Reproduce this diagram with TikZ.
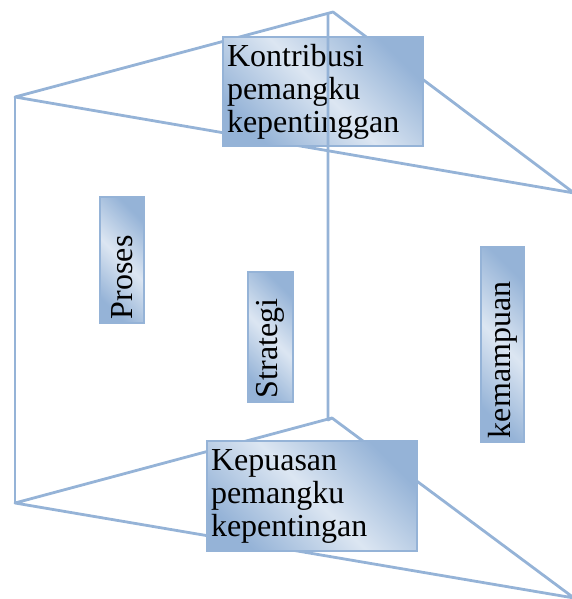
\documentclass[tikz,border=0pt]{standalone}
\usepackage{fontspec}
\setmainfont{Liberation Serif}
\definecolor{edge}{HTML}{95B3D7}
\definecolor{boxlight}{HTML}{DCE6F2}
\definecolor{boxdark}{HTML}{95B3D7}
\begin{document}
\begin{tikzpicture}[x=1pt,y=-1pt,
  frame/.style={draw=edge, line width=2.8pt, line join=round},
  labelbox/.style={draw=edge, line width=2pt, top color=boxdark, bottom color=boxdark,
    middle color=boxlight, shading angle=-45, inner sep=4pt,
    font=\fontsize{32}{33}\selectfont, align=left}]
\useasboundingbox (0,0) rectangle (572,599);
% vertices
\coordinate (tl) at (15,97);
\coordinate (ta) at (333,12);
\coordinate (tr) at (574,193);
\coordinate (bl) at (15,503);
\coordinate (ba) at (332,418);
\coordinate (br) at (574,598);
\coordinate (vt) at (328,14);
\coordinate (vb) at (328,420);
% slanted edges
\draw[frame] (tl) -- (ta) -- (tr) -- cycle;
\draw[frame] (bl) -- (ba) -- (br) -- cycle;
\draw[frame] (tl) -- (bl);
% boxes
\node[labelbox, minimum width=200pt, minimum height=109pt, text width=192pt] (kontribusi) at (323,91.5) {Kontribusi\\pemangku\\kepentinggan};
\node[labelbox, minimum width=210pt, minimum height=110pt, text width=202pt] (kepuasan) at (312,496) {Kepuasan\\pemangku\\kepentingan};
\node[labelbox, rotate=90, minimum width=126pt, minimum height=44pt, text width=118pt] (proses) at (122,260) {Proses};
\node[labelbox, rotate=90, minimum width=130pt, minimum height=45pt, text width=122pt] (strategi) at (270.5,337) {Strategi};
\node[labelbox, rotate=90, minimum width=195pt, minimum height=43pt, text width=187pt] (kemampuan) at (502.5,344.5) {kemampuan};
% vertical edge on top
\draw[frame] (vt) -- (vb) -- (ba);
\end{tikzpicture}
\end{document}
